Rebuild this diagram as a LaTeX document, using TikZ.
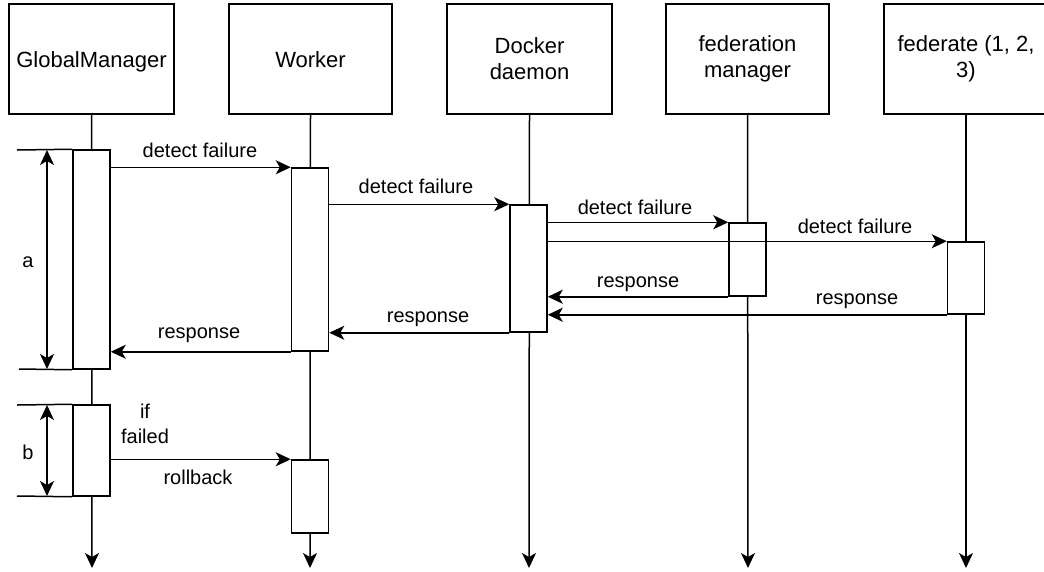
\documentclass[tikz,border=0pt]{standalone}
\usepackage{fontspec}
\setmainfont{Liberation Sans}
\usetikzlibrary{arrows.meta}
\tikzset{
  headtip/.tip={Stealth[length=15pt,width=14pt,inset=4pt]},
}
\begin{document}
\begin{tikzpicture}[x=1pt,y=-1pt,
  every path/.style={line width=1.5pt},
  msgarrow/.style={-headtip},
  bothends/.style={headtip-headtip},
  header/.style={draw,line width=1.5pt,minimum height=110pt,align=center,
    font=\fontsize{22}{26}\selectfont,inner sep=0pt},
  oneline/.style={text height=16pt,text depth=0pt},
  act/.style={draw,fill=white,line width=1.5pt,minimum width=37pt,inner sep=0pt},
  lbl/.style={font=\fontsize{20}{25}\selectfont,anchor=base,inner sep=0pt,align=center}]
\useasboundingbox (0,0) rectangle (1044,571);

% participants
\node[header,oneline,minimum width=165pt] (gm) at (91.5,59) {GlobalManager};
\node[header,oneline,minimum width=163pt] (wk) at (310.5,59) {Worker};
\node[header,minimum width=165pt] (dk) at (529.5,59) {Docker\\daemon};
\node[header,minimum width=163pt] (fm) at (747.5,59) {federation\\manager};
\node[header,minimum width=164pt] (fd) at (966,59) {federate (1, 2,\\3)};

% lifelines
\coordinate (gmend) at (92,568);
\coordinate (wkend) at (310,568);
\coordinate (dkend) at (529,568);
\coordinate (fmend) at (748,568);
\coordinate (fdend) at (966,568);
\draw[msgarrow] (gm.south) -- (gmend);
\draw[msgarrow] (wk.south) -- (wkend);
\draw[msgarrow] (dk.south) -- (dkend);
\draw[msgarrow] (fm.south) -- (fmend);
\draw[msgarrow] (fd.south) -- (fdend);

% activation bars
\node[act,minimum height=219pt] (gm1) at (91.5,259.5) {};
\node[act,minimum height=183pt] (wk1) at (310,259.5) {};
\node[act,minimum height=127pt] (dk1) at (528.5,268.5) {};
\node[act,minimum height=73pt] (fm1) at (747.5,259.5) {};
\node[act,minimum height=72pt] (fd1) at (966,278) {};
\node[act,minimum height=91pt] (gm2) at (91.5,450.5) {};
\node[act,minimum height=73pt] (wk2) at (310,496.5) {};

% calls
\draw[msgarrow] (gm1.east |- wk1.north) -- (wk1.north west);
\draw[msgarrow] (wk1.east |- dk1.north) -- (dk1.north west);
\draw[msgarrow] (dk1.east |- fm1.north) -- (fm1.north west);
\draw[msgarrow] (dk1.east |- fd1.north) -- (fd1.north west);
\draw[msgarrow] (gm2.east |- wk2.north) -- (wk2.north west);

% replies
\draw[msgarrow] (fm1.south west) -- (dk1.east |- fm1.south);
\draw[msgarrow] (fd1.south west) -- (dk1.east |- fd1.south);
\draw[msgarrow] (dk1.south west) -- (wk1.east |- dk1.south);
\draw[msgarrow] (wk1.south west) -- (gm1.east |- wk1.south);

% message labels
\node[lbl] (l1) at (200,157) {detect failure};
\node[lbl] (l2) at (416,193) {detect failure};
\node[lbl] (l3) at (635,214) {detect failure};
\node[lbl] (l4) at (855,233) {detect failure};
\node[lbl] (r1) at (638,287) {response};
\node[lbl] (r2) at (857,304) {response};
\node[lbl] (r3) at (428,322) {response};
\node[lbl] (r4) at (199,338) {response};
\node[lbl] (cond) at (145,443) {if\\failed};
\node[lbl] (rb) at (198,484) {rollback};

% interval markers
\coordinate (atop) at (17,150);
\coordinate (abot) at (19,369);
\coordinate (btop) at (17,405);
\coordinate (bbot) at (17,496);
\draw (atop) -- (gm1.north west);
\draw (abot) -- (gm1.south west);
\draw (btop) -- (gm2.north west);
\draw (bbot) -- (gm2.south west);
\draw[bothends] (47,150) -- (47,369);
\draw[bothends] (47,405) -- (47,496);
\node[lbl] (la) at (28,267) {a};
\node[lbl] (lb) at (28,459) {b};
\end{tikzpicture}
\end{document}
